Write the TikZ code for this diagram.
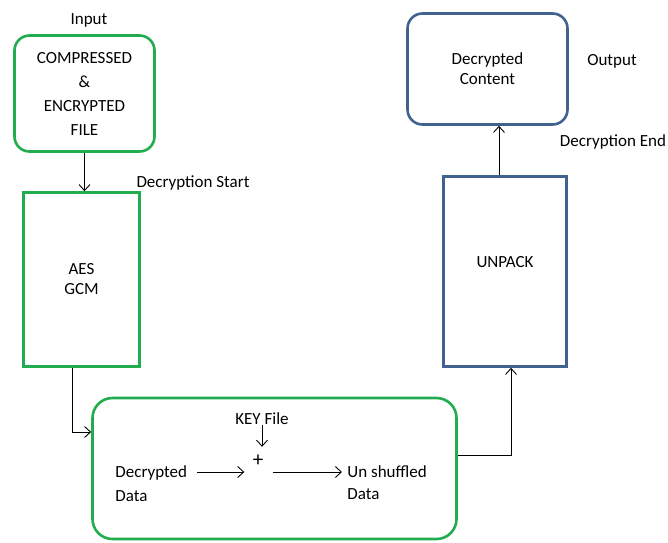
\documentclass[tikz,border=0pt]{standalone}
\usepackage{fontspec}
\setmainfont{Carlito}
\usetikzlibrary{arrows.meta}

\definecolor{boxgreen}{RGB}{34,172,80}
\definecolor{boxblue}{RGB}{65,98,143}

\begin{document}
\begin{tikzpicture}[x=1pt,y=-1pt,>={Straight Barb[length=6pt,width=11pt]}]
    \tikzstyle{every node}=[font=\fontsize{17}{20}\selectfont,align=center]
    \tikzstyle{every path}=[line width=0.9pt]
    \tikzstyle{greenbox}=[draw=boxgreen,line width=2.6pt]
    \tikzstyle{bluebox}=[draw=boxblue,line width=2.6pt]
    \tikzstyle{inner}=[inner sep=0pt]

    \useasboundingbox (0,0) rectangle (668,542);

    % input file and AES stage
    \node[greenbox,rounded corners=15pt,minimum width=140pt,minimum height=116pt,
        font=\fontsize{17}{24}\selectfont] (input) at (84.5,93.5)
        {COMPRESSED\\\&\\ENCRYPTED\\FILE};
    \node (inlbl) at (89,20) {Input};

    \node[greenbox,minimum width=116pt,minimum height=174pt] (aes) at (81.5,279.5)
        {AES\\GCM};
    \node (start) at (193,183) {Decryption Start};

    \draw[->] (input.south) -- (input.south |- aes.north);

    % unshuffle stage
    \node[greenbox,rounded corners=20pt,minimum width=364pt,minimum height=141pt]
        (shuf) at (274.5,468.5) {};
    \node[inner] (key) at (262,419) {KEY File};
    \node[inner,font=\fontsize{21}{24}\selectfont] (plus) at (258,461) {+};
    \node[inner,anchor=west,align=left,font=\fontsize{17}{24}\selectfont]
        (dec) at (115,484) {Decrypted\\Data};
    \node[inner,anchor=west,align=left,font=\fontsize{17}{22}\selectfont]
        (unsh) at (347,483) {Un shuffled\\Data};

    \coordinate (row) at ([yshift=12pt]dec.east);
    \draw[->] (key.south) -- ([yshift=8pt]key.south |- plus.north);
    \draw[->] ([xshift=10pt]row) -- ([xshift=-8pt]row -| plus.west);
    \draw[->] ([xshift=9pt]row -| plus.east) -- ([xshift=-5pt]row -| unsh.west);

    \draw[->] ([xshift=-9.5pt]aes.south) |- ([yshift=36.5pt]shuf.west);

    % unpack and output
    \node[bluebox,minimum width=123pt,minimum height=190pt,
        label={[yshift=9pt]center:UNPACK}] (unpack) at (505,271.5) {};
    \node[bluebox,rounded corners=15pt,minimum width=160pt,minimum height=111pt]
        (out) at (487.5,69) {Decrypted\\Content};
    \node (outlbl) at (612,61) {Output};
    \node (end) at (613,142) {Decryption End};

    \draw[->] ([yshift=13.5pt]shuf.east) -| ([xshift=6pt]unpack.south);
    \draw[->] ([xshift=-6pt]unpack.north) -- ([xshift=-6pt]unpack.north |- out.south);
\end{tikzpicture}
\end{document}
